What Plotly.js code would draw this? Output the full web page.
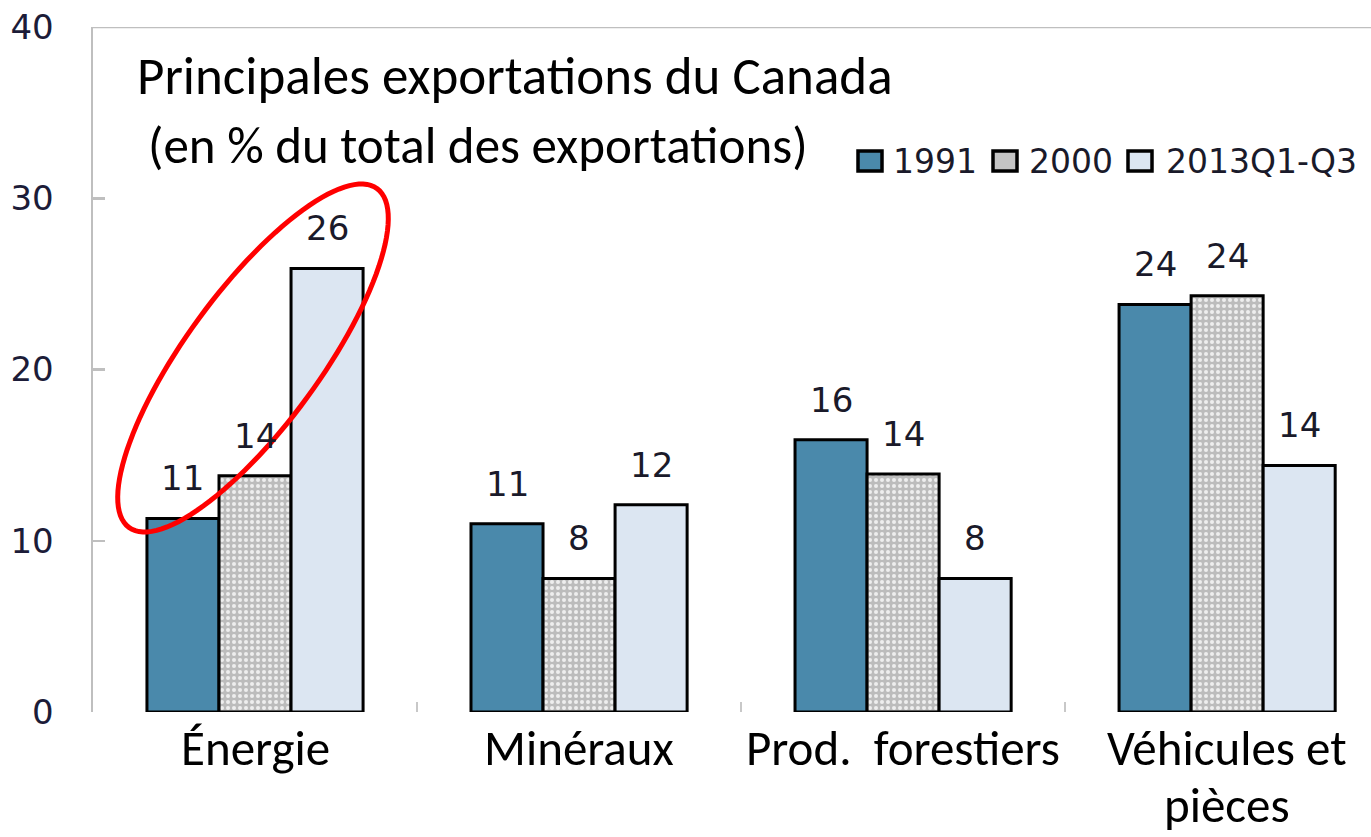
<!DOCTYPE html>
<html>
<head>
<meta charset="utf-8">
<script src="https://cdn.plot.ly/plotly-3.0.1.min.js"></script>
<style>
  html, body { margin: 0; padding: 0; background: #ffffff; overflow: hidden; }
  #chart { width: 1371px; height: 837px; }
</style>
</head>
<body>
<div id="chart"></div>
<script>
// ---- Data ----
const categories = ['Énergie', 'Minéraux', 'Prod.\u00a0 forestiers', 'Véhicules et<br>pièces'];
const seriesNames = ['1991', '2000', '2013Q1-Q3'];
const values1991 = [11.3, 11.0, 15.9, 23.8];
const values2000 = [13.8, 7.8, 13.9, 24.3];
const values2013 = [25.9, 12.1, 7.8, 14.4];
const labels1991 = ['11', '11', '16', '24'];
const labels2000 = ['14', '8', '14', '24'];
const labels2013 = ['26', '12', '8', '14'];
const yTicks = [0, 10, 20, 30, 40];

// ---- Style / layout constants (pixels) ----
const W = 1371, H = 837;
const M = {l: 93, r: 0, t: 27, b: 125};
const plotW = W - M.l - M.r, plotH = H - M.t - M.b;
const bargap = 0.333;
const seriesColors = ['#4a89ab', '#c4c4c4', '#dce6f2'];

const numFont = 'DejaVu Sans, Verdana, sans-serif';
const textFont = 'Carlito, Open Sans, Noto Sans, sans-serif';

const seriesValues = [values1991, values2000, values2013];
const seriesLabels = [labels1991, labels2000, labels2013];

const traces = [
  {
    type: 'bar', name: seriesNames[0], x: categories, y: values1991,
    marker: {color: seriesColors[0], line: {color: '#000000', width: 3}},
    hoverinfo: 'skip'
  },
  {
    type: 'bar', name: seriesNames[1], x: categories, y: values2000,
    marker: {
      color: seriesColors[1], line: {color: '#000000', width: 3},
      pattern: {shape: '.', bgcolor: '#bcbcbc', fgcolor: '#eeeeee', size: 6, solidity: 0.35}
    },
    hoverinfo: 'skip'
  },
  {
    type: 'bar', name: seriesNames[2], x: categories, y: values2013,
    marker: {color: seriesColors[2], line: {color: '#000000', width: 3}},
    hoverinfo: 'skip'
  }
];

const px2x = px => (px - M.l) / plotW;
const px2y = py => (H - M.b - py) / plotH;

const annotations = [];

// value labels above bars
const nS = seriesValues.length;
const bw = (1 - bargap) / nS;
seriesValues.forEach((vals, i) => {
  vals.forEach((v, j) => {
    annotations.push({
      x: j + (i - (nS - 1) / 2) * bw, y: v, xref: 'x', yref: 'y',
      text: seriesLabels[i][j], showarrow: false,
      yanchor: 'middle', yshift: 40,
      font: {family: numFont, size: 34, color: '#1a1a2a'}
    });
  });
});

// category labels under the axis (one annotation per line to control line spacing)
const catLineY = [748, 805];
categories.forEach((c, j) => {
  c.split('<br>').forEach((line, k) => {
    annotations.push({
      x: j, xref: 'x', y: px2y(catLineY[k]), yref: 'paper',
      xanchor: 'center', yanchor: 'middle', showarrow: false,
      text: line,
      font: {family: textFont, size: 49, color: '#000000'}
    });
  });
});

// subtitle
annotations.push({
  xref: 'paper', yref: 'paper',
  x: px2x(146), y: px2y(145),
  xanchor: 'left', yanchor: 'middle',
  text: '(en % du total des exportations)', showarrow: false,
  font: {family: textFont, size: 51, color: '#000000'}
});

// custom legend (bigger swatches than Plotly's built-in legend)
const legendSwatchX = [858, 993, 1128];
const legendTextX = [891, 1027, 1164];
const legendY = 161;
const shapes = [];
seriesNames.forEach((name, i) => {
  shapes.push({
    type: 'rect', xref: 'paper', yref: 'paper',
    x0: px2x(legendSwatchX[i]), x1: px2x(legendSwatchX[i] + 24),
    y0: px2y(legendY + 10), y1: px2y(legendY - 10),
    fillcolor: seriesColors[i], line: {color: '#000000', width: 3.5}
  });
  annotations.push({
    xref: 'paper', yref: 'paper', x: px2x(legendTextX[i]), y: px2y(legendY),
    xanchor: 'left', yanchor: 'middle', showarrow: false, text: name,
    font: {family: numFont, size: 33, color: '#1a1a2a'}
  });
});

// red ellipse (pixel geometry converted to paper coords)
function ellipsePath(cx, cy, a, b, deg) {
  const t = deg * Math.PI / 180;
  let p = '';
  for (let k = 0; k <= 120; k++) {
    const phi = 2 * Math.PI * k / 120;
    const px = cx + a * Math.cos(phi) * Math.cos(t) - b * Math.sin(phi) * Math.sin(t);
    const py = cy - (a * Math.cos(phi) * Math.sin(t) + b * Math.sin(phi) * Math.cos(t));
    p += (k === 0 ? 'M' : 'L') + px2x(px).toFixed(5) + ',' + px2y(py).toFixed(5);
  }
  return p + 'Z';
}

shapes.push(
  {type: 'line', xref: 'paper', yref: 'y', x0: 0, x1: 1, y0: 40, y1: 40,
   line: {color: '#bfbfbf', width: 2.5}},
  {type: 'path', xref: 'paper', yref: 'paper', path: ellipsePath(253, 358, 210, 67, 53.8),
   line: {color: '#ff0000', width: 5}, fillcolor: 'rgba(0,0,0,0)'}
);

const layout = {
  width: W, height: H,
  margin: M,
  paper_bgcolor: '#ffffff', plot_bgcolor: '#ffffff',
  barmode: 'group', bargap: bargap, bargroupgap: 0,
  showlegend: false,
  title: {
    text: 'Principales exportations du Canada',
    xref: 'paper', x: px2x(137), xanchor: 'left',
    yref: 'container', y: 1 - 75 / H, yanchor: 'middle',
    font: {family: textFont, size: 53, color: '#000000'}
  },
  xaxis: {
    type: 'category', range: [-0.5, 3.444],
    showline: false, showgrid: false, zeroline: false,
    ticks: 'inside', tickson: 'boundaries', ticklen: 10, tickwidth: 2, tickcolor: '#c8c8c8',
    showticklabels: false,
    fixedrange: true
  },
  yaxis: {
    range: [0, 40], tickvals: yTicks, ticktext: yTicks.map(String),
    showline: true, linecolor: '#bfbfbf', linewidth: 2.5,
    showgrid: false, zeroline: false,
    ticks: 'inside', ticklen: 12, tickwidth: 2.5, tickcolor: '#bfbfbf',
    ticklabelstandoff: 30,
    tickfont: {family: numFont, size: 34, color: '#1c1c38'},
    fixedrange: true
  },
  annotations: annotations,
  shapes: shapes
};

Plotly.newPlot('chart', traces, layout, {displayModeBar: false, staticPlot: true});
</script>
</body>
</html>
